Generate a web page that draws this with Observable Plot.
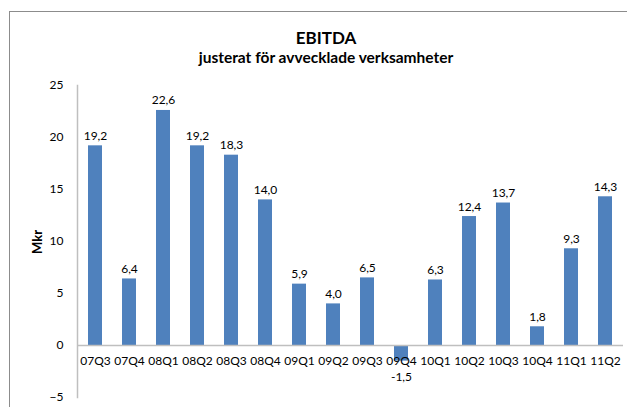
<!DOCTYPE html>
<html>
<head>
<meta charset="utf-8">
<script src="https://cdn.jsdelivr.net/npm/d3@7"></script>
<script src="https://cdn.jsdelivr.net/npm/@observablehq/plot@0.6"></script>
<style>
  html, body { margin: 0; padding: 0; background: #fff; overflow: hidden; width: 627px; height: 407px; }
  #wrap { position: relative; width: 627px; height: 407px; font-family: Lato, "Open Sans", sans-serif; }
  #border { position: absolute; left: 9px; top: 11px; width: 700px; height: 500px; border: 1px solid #8c8c8c; box-sizing: border-box; }
  #title { position: absolute; left: 0; width: 652px; top: 27px; text-align: center; font-weight: bold; font-size: 17px; color: #000; }
  #subtitle { position: absolute; left: 0; width: 652px; top: 48px; text-align: center; font-weight: bold; font-size: 15.5px; color: #000; }
  #ylabel { position: absolute; left: 37px; top: 242px; transform: translate(-50%, -50%) rotate(-90deg); font-weight: bold; font-size: 13px; color: #000; }
  #chart { position: absolute; left: 0; top: 0; }
</style>
</head>
<body>
<div id="wrap">
  <div id="border"></div>
  <div id="chart"></div>
  <div id="title">EBITDA</div>
  <div id="subtitle">justerat för avvecklade verksamheter</div>
  <div id="ylabel">Mkr</div>
</div>
<script>
const quarters = ["07Q3","07Q4","08Q1","08Q2","08Q3","08Q4","09Q1","09Q2","09Q3","09Q4","10Q1","10Q2","10Q3","10Q4","11Q1","11Q2"];
const ebitda = [19.2, 6.4, 22.6, 19.2, 18.3, 14.0, 5.9, 4.0, 6.5, -1.5, 6.3, 12.4, 13.7, 1.8, 9.3, 14.3];
const yTicks = [-5, 0, 5, 10, 15, 20, 25];

const data = quarters.map((q, i) => ({q, v: ebitda[i]}));
const fmt = v => v.toFixed(1).replace(".", ",");

const chart = Plot.plot({
  width: 627,
  height: 407,
  marginLeft: 77,
  marginRight: 4,
  marginTop: 85,
  marginBottom: 10,
  style: {fontFamily: "Lato, 'Open Sans', sans-serif", fontSize: "12px", color: "#000", background: "transparent"},
  x: {domain: quarters, paddingInner: 0.59, paddingOuter: 0.295, axis: null},
  y: {domain: [-5, 25], axis: null},
  marks: [
    Plot.barY(data, {x: "q", y: "v", fill: "#4F81BD"}),
    Plot.ruleY([0], {stroke: "#bfbfbf", strokeWidth: 1.5}),
    Plot.frame({anchor: "left", stroke: "#bfbfbf", strokeWidth: 1.5}),
    Plot.axisY({ticks: yTicks, tickSize: 0, tickPadding: 14, label: null, fontSize: 12}),
    Plot.text(data, {x: "q", y: 0, text: "q", dy: 16, fontSize: 12, fill: "#000"}),
    Plot.text(data, {x: "q", y: "v", text: d => fmt(d.v), fontSize: 12, fill: "#000",
      filter: d => d.v >= 0, lineAnchor: "bottom", dy: -6}),
    Plot.text(data, {x: "q", y: "v", text: d => fmt(d.v), fontSize: 12, fill: "#000",
      filter: d => d.v < 0, dy: 16})
  ]
});
document.getElementById("chart").appendChild(chart);
</script>
</body>
</html>
